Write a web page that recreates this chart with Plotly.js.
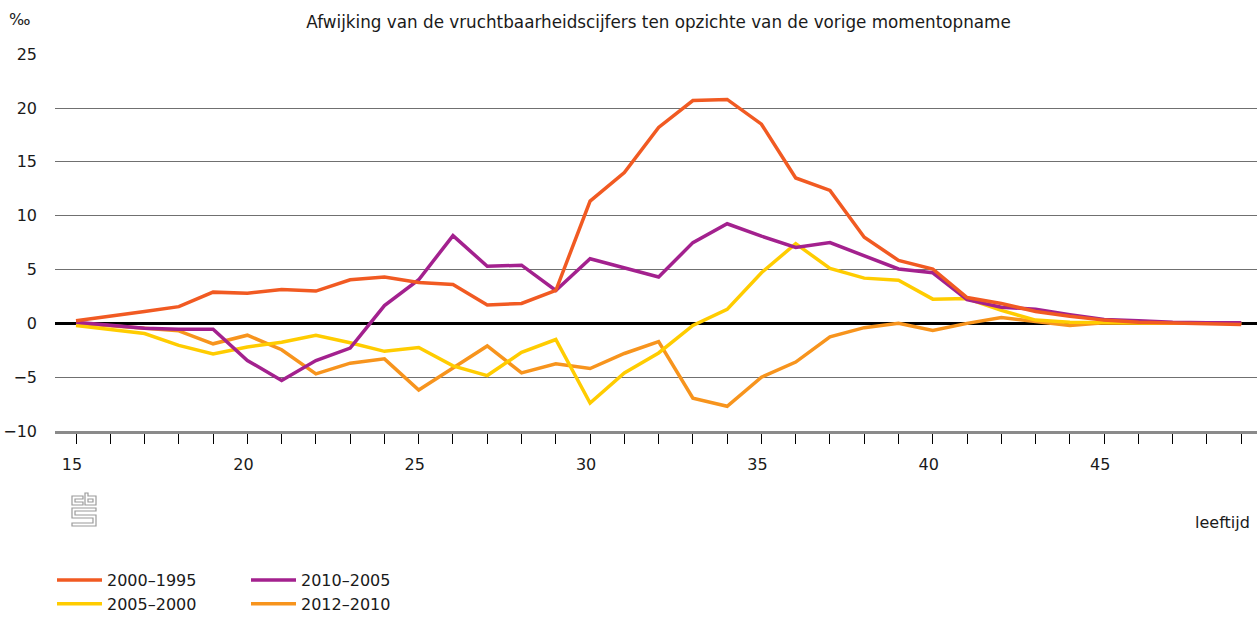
<!DOCTYPE html>
<html>
<head>
<meta charset="utf-8">
<script src="https://cdn.plot.ly/plotly-3.0.1.min.js"></script>
<style>html,body{margin:0;padding:0;background:#fff;}#chart{width:1259px;height:617px;}</style>
</head>
<body>
<div id="chart"></div>
<script>
const ages = [15,16,17,18,19,20,21,22,23,24,25,26,27,28,29,30,31,32,33,34,35,36,37,38,39,40,41,42,43,44,45,46,47,48,49];
const tickLabels = ['15','','','','','20','','','','','25','','','','','30','','','','','35','','','','','40','','','','','45','','','',''];
const seriesNames = ['2000–1995','2005–2000','2010–2005','2012–2010'];
const s2000_1995 = [0.25,0.65,1.1,1.55,2.9,2.8,3.15,3.0,4.05,4.3,3.8,3.6,1.7,1.85,3.05,11.35,14.0,18.2,20.7,20.8,18.5,13.5,12.35,8.0,5.85,5.05,2.4,1.85,1.1,0.65,0.3,0.1,0.05,0.0,-0.1];
const s2005_2000 = [-0.2,-0.55,-0.95,-2.05,-2.85,-2.2,-1.75,-1.1,-1.8,-2.6,-2.25,-3.95,-4.85,-2.7,-1.5,-7.4,-4.6,-2.75,-0.2,1.3,4.7,7.4,5.1,4.2,4.0,2.25,2.3,1.2,0.3,0.1,0.05,0,0,0,0];
const s2010_2005 = [0.1,-0.2,-0.45,-0.55,-0.55,-3.45,-5.3,-3.45,-2.3,1.65,4.05,8.15,5.3,5.4,3.05,6.0,5.15,4.3,7.5,9.25,8.1,7.05,7.5,6.3,5.05,4.7,2.2,1.5,1.3,0.8,0.35,0.25,0.1,0.05,0.05];
const s2012_2010 = [0,-0.2,-0.45,-0.7,-1.9,-1.1,-2.45,-4.7,-3.7,-3.3,-6.2,-4.15,-2.1,-4.6,-3.75,-4.2,-2.8,-1.7,-6.95,-7.7,-5.0,-3.6,-1.25,-0.4,0.0,-0.65,0.0,0.55,0.15,-0.2,0.05,0,0,0,0];

const FONT = 'DejaVu Sans, sans-serif';
const FS = 16;
const TXT = '#1a1a1a';

function mk(name, y, color, rank, leg) {
  return {x: ages, y: y, name: name, type: 'scatter', mode: 'lines', legend: leg, legendgroup: name,
          line: {color: color, width: 3.5}, legendrank: rank, hoverinfo: 'skip'};
}
const traces = [
  mk(seriesNames[3], s2012_2010, '#F7941D', 2, 'legend2'),
  mk(seriesNames[1], s2005_2000, '#FFCC00', 2, 'legend'),
  mk(seriesNames[2], s2010_2005, '#A3218E', 1, 'legend2'),
  mk(seriesNames[0], s2000_1995, '#F15A22', 1, 'legend')
];

const L = 55, T = 54, W = 1202, H = 377;
const LEG_TOP = 563;
function px(x){ return (x - L) / W; }
function py(y){ return (T + H - y) / H; }
function poly(pts){ return 'M' + pts.map(p => px(p[0]).toFixed(5) + ',' + py(p[1]).toFixed(5)).join(' L') + ' Z'; }
const logoStyle = {color: '#9a9a9a', width: 1.2};
const logoShapes = [
  [[72,496],[83,496],[83,499],[75,499],[75,502],[83,502],[83,505],[72,505]],
  [[85,493],[88,493],[88,496],[96,496],[96,505],[85,505]],
  [[88,499],[93,499],[93,502],[88,502]],
  [[72,508],[96,508],[96,511],[75,511],[75,515],[96,515],[96,526],[72,526],[72,523],[93,523],[93,518],[72,518]]
].map(p => ({type: 'path', xref: 'paper', yref: 'paper', path: poly(p), line: logoStyle, fillcolor: 'rgba(0,0,0,0)'}));

const legendBase = {orientation: 'v', xref: 'paper', yref: 'container', xanchor: 'left', yanchor: 'top',
  y: 1 - LEG_TOP/617, traceorder: 'grouped', itemwidth: 45, font: {family: FONT, size: FS, color: TXT},
  bgcolor: 'rgba(0,0,0,0)', tracegroupgap: 0};

const layout = {
  width: 1259, height: 617,
  margin: {l: L, r: 1259 - L - W, t: T, b: 617 - T - H, pad: 0},
  paper_bgcolor: '#fff', plot_bgcolor: '#fff',
  font: {family: FONT, size: FS, color: TXT},
  title: {text: 'Afwijking van de vruchtbaarheidscijfers ten opzichte van de vorige momentopname',
          xref: 'container', x: 658.5/1259, xanchor: 'center', yref: 'container', y: 1 - 22/617, yanchor: 'middle',
          font: {family: FONT, size: 16.8, color: TXT}},
  xaxis: {range: [14.387, 49.46], tickvals: ages, ticktext: tickLabels, ticks: 'outside', ticklen: 10,
          tickcolor: '#000', tickwidth: 1, showgrid: false, zeroline: false, showline: true,
          linecolor: '#8a8a8a', linewidth: 3, tickfont: {family: FONT, size: FS, color: TXT},
          ticklabelstandoff: 7, ticklabelshift: -4, fixedrange: true, automargin: false},
  yaxis: {range: [-10, 25.02], tick0: 0, dtick: 5, showgrid: true, gridcolor: '#707070', gridwidth: 1,
          zeroline: true, zerolinecolor: '#000', zerolinewidth: 3, ticks: '', showline: false,
          tickfont: {family: FONT, size: FS, color: TXT}, ticklabelstandoff: 17, fixedrange: true, automargin: false},
  showlegend: true,
  legend: Object.assign({}, legendBase, {x: px(52)}),
  legend2: Object.assign({}, legendBase, {x: px(246)}),
  annotations: [
    {text: '‰', xref: 'paper', yref: 'paper', x: px(7), y: py(20), xanchor: 'left', yanchor: 'middle',
     showarrow: false, font: {family: FONT, size: 16, color: TXT}},
    {text: 'leeftijd', xref: 'paper', yref: 'paper', x: px(1252), y: py(522), xanchor: 'right', yanchor: 'middle',
     showarrow: false, font: {family: FONT, size: FS, color: TXT}}
  ],
  shapes: logoShapes
};

Plotly.newPlot('chart', traces, layout, {displayModeBar: false, staticPlot: true});
</script>
</body>
</html>
